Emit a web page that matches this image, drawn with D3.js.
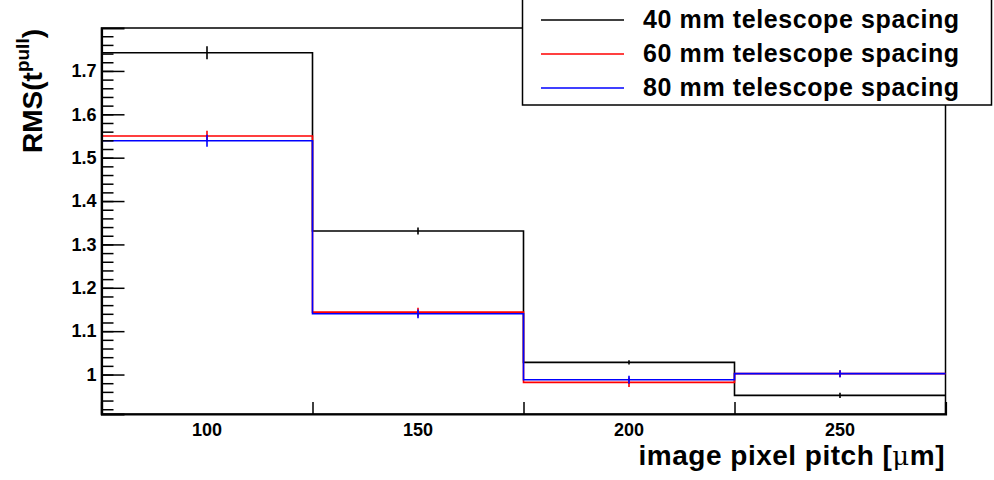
<!DOCTYPE html>
<html><head><meta charset="utf-8">
<script src="https://cdn.jsdelivr.net/npm/d3@7"></script>
<style>
html,body{margin:0;padding:0;background:#fff;}
svg{display:block;font-family:"Liberation Sans",Arial,Helvetica,sans-serif;}
</style></head><body>
<svg id="c" width="994" height="480"></svg>
<script>
const binEdges = [75, 125, 175, 225, 275];
const binCenters = [100, 150, 200, 250];
const xTickLabels = ["100", "150", "200", "250"];
const yMajorTicks = [1.0, 1.1, 1.2, 1.3, 1.4, 1.5, 1.6, 1.7];
const seriesNames = ["40 mm telescope spacing", "60 mm telescope spacing", "80 mm telescope spacing"];
const seriesColors = ["#000000", "#ff0000", "#0000ff"];
const rms40 = [1.742, 1.331, 1.028, 0.952];
const err40 = [0.015, 0.008, 0.005, 0.006];
const rms60 = [1.550, 1.144, 0.982, 1.002];
const err60 = [0.012, 0.010, 0.011, 0.008];
const rms80 = [1.539, 1.140, 0.988, 1.002];
const err80 = [0.014, 0.010, 0.009, 0.008];

const series = [
  {name: seriesNames[0], color: seriesColors[0], v: rms40, e: err40},
  {name: seriesNames[1], color: seriesColors[1], v: rms60, e: err60},
  {name: seriesNames[2], color: seriesColors[2], v: rms80, e: err80}
];

const L = 101.5, R = 945.5, T = 28, B = 414;
const x = d3.scaleLinear().domain([75, 275]).range([L, R]);
const y = d3.scaleLinear().domain([0.909, 1.799]).range([B, T]);
const svg = d3.select("#c");

// frame
svg.append("rect").attr("x", L).attr("y", T).attr("width", R - L).attr("height", B - T)
  .attr("fill", "none").attr("stroke", "#000").attr("stroke-width", 1.5);

// histograms
const g = svg.append("g");
series.forEach(s => {
  let pts = [];
  s.v.forEach((val, i) => {
    pts.push([x(binEdges[i]), y(val)]);
    pts.push([x(binEdges[i + 1]), y(val)]);
  });
  g.append("path").attr("d", d3.line()(pts)).attr("fill", "none")
    .attr("stroke", s.color).attr("stroke-width", 1.6);
  s.v.forEach((val, i) => {
    g.append("line").attr("x1", x(binCenters[i])).attr("x2", x(binCenters[i]))
      .attr("y1", y(val - s.e[i])).attr("y2", y(val + s.e[i]))
      .attr("stroke", s.color).attr("stroke-width", 1.6);
  });
});

// y axis
const fmt = d => String(+d.toFixed(1));
const yMinor = d3.range(0.92, 1.7901, 0.02);
svg.append("g").attr("transform", `translate(${L},0)`)
  .call(d3.axisLeft(y).tickValues(yMinor).tickSize(-12).tickFormat(""))
  .call(a => { a.select(".domain").remove(); a.selectAll("line").attr("stroke-width", 1.5); });
svg.append("g").attr("transform", `translate(${L},0)`)
  .call(d3.axisLeft(y).tickValues(yMajorTicks).tickSize(-23).tickPadding(5).tickFormat(fmt))
  .call(a => {
    a.select(".domain").attr("stroke-width", 2.2);
    a.selectAll("line").attr("stroke-width", 1.5);
    a.selectAll("text").attr("font-size", 18).attr("font-weight", "bold")
      .attr("font-family", "Liberation Sans,Arial,sans-serif").attr("fill", "#000");
  });

// x axis: ticks at bin edges, labels at bin centers
svg.append("g").attr("transform", `translate(0,${B})`)
  .call(d3.axisBottom(x).tickValues(binEdges).tickSize(-12).tickFormat(""))
  .call(a => { a.select(".domain").attr("stroke-width", 2.2); a.selectAll("line").attr("stroke-width", 1.5); });
svg.append("g").selectAll("text").data(binCenters).join("text")
  .attr("x", d => x(d)).attr("y", 436).attr("text-anchor", "middle")
  .attr("font-size", 18).attr("font-weight", "bold")
  .text((d, i) => xTickLabels[i]);

// axis titles
const xt = svg.append("text").attr("x", 945).attr("y", 465).attr("text-anchor", "end")
  .attr("font-size", 28).attr("font-weight", "bold").attr("letter-spacing", 0.5);
xt.append("tspan").text("image pixel pitch [");
xt.append("tspan").attr("font-weight", "normal").attr("font-family", "DejaVu Serif,serif").attr("font-size", 26).text("μ");
xt.append("tspan").text("m]");

const yt = svg.append("text").attr("transform", "translate(42,29) rotate(-90)")
  .attr("text-anchor", "end").attr("font-size", 28).attr("font-weight", "bold");
yt.append("tspan").text("RMS(t");
yt.append("tspan").attr("font-size", 19).attr("dy", -13).text("pull");
yt.append("tspan").attr("dy", 13).text(")");

// legend
const lg = svg.append("g");
lg.append("rect").attr("x", 522.5).attr("y", -1).attr("width", 469).attr("height", 106)
  .attr("fill", "#fff").attr("stroke", "#000").attr("stroke-width", 1.5);
const rowY = [20, 54, 88];
series.forEach((s, i) => {
  lg.append("line").attr("x1", 541).attr("x2", 624).attr("y1", rowY[i]).attr("y2", rowY[i])
    .attr("stroke", s.color).attr("stroke-width", 1.5);
  lg.append("text").attr("x", 643).attr("y", rowY[i] + 8).attr("font-size", 25)
    .attr("letter-spacing", 0.6).attr("font-weight", "bold").text(s.name);
});
</script></body></html>
